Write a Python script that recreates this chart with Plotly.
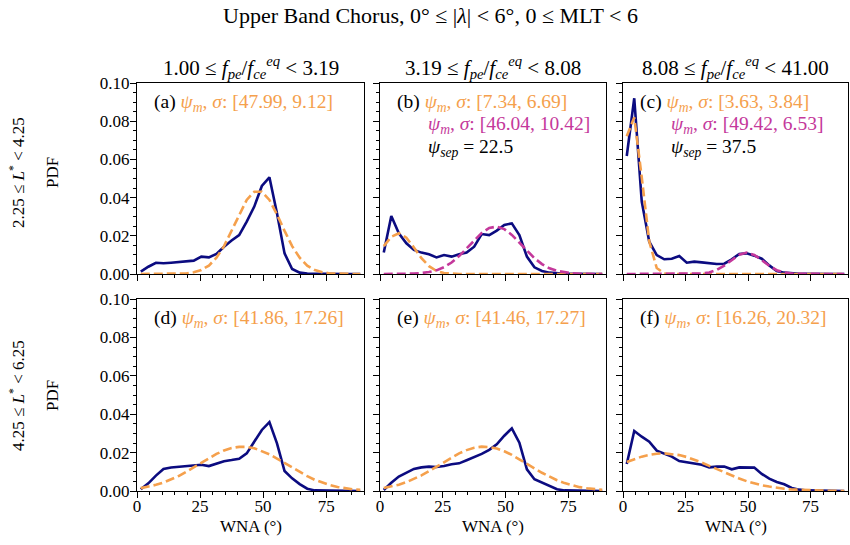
import plotly.graph_objects as go

# Bin centres of wave normal angle (degrees)
wna = [1.5, 4.5, 7.5, 10.5, 13.5, 16.5, 19.5, 22.5, 25.5, 28.5,
       31.5, 34.5, 37.5, 40.5, 43.5, 46.5, 49.5, 52.5, 55.5, 58.5,
       61.5, 64.5, 67.5, 70.5, 73.5, 76.5, 79.5, 82.5, 85.5, 88.5]

# Measured PDFs (navy)
pdf_a = [0.0012, 0.0038, 0.0059, 0.0056, 0.0059, 0.0063, 0.0068, 0.0070, 0.0091, 0.0087,
         0.0105, 0.0143, 0.0175, 0.0204, 0.0274, 0.0353, 0.0461, 0.0506, 0.0318, 0.0108,
         0.0026, 0.0007, 0.0002, 0.0001, 0.0001, 0.0, 0.0, 0.0, 0.0, 0.0]
pdf_b = [0.0112, 0.0304, 0.0213, 0.0161, 0.0126, 0.0112, 0.0103, 0.0087, 0.0099, 0.0091,
         0.0103, 0.0112, 0.0143, 0.0209, 0.0204, 0.0227, 0.0257, 0.0265, 0.0204, 0.0091,
         0.0035, 0.0016, 0.0007, 0.0003, 0.0001, 0.0001, 0.0, 0.0, 0.0, 0.0]
pdf_c = [0.0618, 0.0920, 0.0379, 0.0169, 0.0099, 0.0077, 0.0080, 0.0094, 0.0059, 0.0065,
         0.0061, 0.0056, 0.0052, 0.0054, 0.0077, 0.0105, 0.0108, 0.0096, 0.0080, 0.0045,
         0.0016, 0.0007, 0.0003, 0.0001, 0.0001, 0.0, 0.0, 0.0, 0.0, 0.0]
pdf_d = [0.0009, 0.0040, 0.0080, 0.0115, 0.0122, 0.0125, 0.0128, 0.0132, 0.0137, 0.0130,
         0.0142, 0.0155, 0.0161, 0.0168, 0.0196, 0.0257, 0.0318, 0.0359, 0.0248, 0.0104,
         0.0066, 0.0036, 0.0012, 0.0003, 0.0002, 0.0001, 0.0001, 0.0, 0.0, 0.0]
pdf_e = [0.0005, 0.0043, 0.0075, 0.0095, 0.0115, 0.0123, 0.0127, 0.0125, 0.0130, 0.0139,
         0.0144, 0.0160, 0.0175, 0.0193, 0.0214, 0.0243, 0.0288, 0.0326, 0.0252, 0.0113,
         0.0061, 0.0043, 0.0023, 0.0009, 0.0003, 0.0002, 0.0001, 0.0001, 0.0, 0.0]
pdf_f = [0.0141, 0.0313, 0.0283, 0.0257, 0.0210, 0.0196, 0.0179, 0.0156, 0.0149, 0.0144,
         0.0137, 0.0123, 0.0127, 0.0127, 0.0113, 0.0123, 0.0122, 0.0122, 0.0089, 0.0064,
         0.0047, 0.0035, 0.0016, 0.0007, 0.0003, 0.0002, 0.0001, 0.0001, 0.0, 0.0]

# Fitted Gaussian components
fit1_a = [0.0, 0.0, 0.0, 0.0, 0.0, 0.0001, 0.0003, 0.0009, 0.0021, 0.0044,
          0.0085, 0.0146, 0.0226, 0.0312, 0.0388, 0.0431, 0.0431, 0.0388, 0.0312, 0.0226,
          0.0146, 0.0085, 0.0044, 0.0021, 0.0009, 0.0003, 0.0001, 0.0, 0.0, 0.0]
fit1_b = [0.0146, 0.0195, 0.0213, 0.0190, 0.0139, 0.0083, 0.0041, 0.0016, 0.0005, 0.0001,
          0.0, 0.0, 0.0, 0.0, 0.0, 0.0, 0.0, 0.0, 0.0, 0.0,
          0.0, 0.0, 0.0, 0.0, 0.0, 0.0, 0.0, 0.0, 0.0, 0.0]
fit2_b = [0.0, 0.0, 0.0, 0.0001, 0.0002, 0.0005, 0.0010, 0.0019, 0.0036, 0.0060,
          0.0094, 0.0134, 0.0177, 0.0215, 0.0241, 0.0248, 0.0235, 0.0205, 0.0164, 0.0121,
          0.0083, 0.0052, 0.0030, 0.0016, 0.0008, 0.0004, 0.0001, 0.0001, 0.0, 0.0]
fit1_c = [0.0721, 0.0820, 0.0506, 0.0170, 0.0031, 0.0003, 0.0, 0.0, 0.0, 0.0,
          0.0, 0.0, 0.0, 0.0, 0.0, 0.0, 0.0, 0.0, 0.0, 0.0,
          0.0, 0.0, 0.0, 0.0, 0.0, 0.0, 0.0, 0.0, 0.0, 0.0]
fit2_c = [0.0, 0.0, 0.0, 0.0, 0.0, 0.0, 0.0, 0.0, 0.0, 0.0001,
          0.0003, 0.0008, 0.0021, 0.0044, 0.0074, 0.0101, 0.0112, 0.0100, 0.0073, 0.0043,
          0.0020, 0.0008, 0.0002, 0.0001, 0.0, 0.0, 0.0, 0.0, 0.0, 0.0]
fit1_d = [0.0015, 0.0022, 0.0032, 0.0044, 0.0060, 0.0078, 0.0100, 0.0123, 0.0147, 0.0171,
          0.0193, 0.0211, 0.0224, 0.0230, 0.0230, 0.0223, 0.0209, 0.0191, 0.0169, 0.0145,
          0.0121, 0.0098, 0.0077, 0.0058, 0.0043, 0.0031, 0.0021, 0.0014, 0.0009, 0.0006]
fit1_e = [0.0016, 0.0023, 0.0033, 0.0046, 0.0062, 0.0081, 0.0103, 0.0126, 0.0151, 0.0174,
          0.0196, 0.0213, 0.0225, 0.0231, 0.0229, 0.0221, 0.0207, 0.0188, 0.0166, 0.0142,
          0.0118, 0.0095, 0.0074, 0.0056, 0.0041, 0.0030, 0.0020, 0.0014, 0.0009, 0.0006]
fit1_f = [0.0151, 0.0166, 0.0179, 0.0188, 0.0194, 0.0196, 0.0193, 0.0187, 0.0177, 0.0164,
          0.0148, 0.0131, 0.0114, 0.0096, 0.0080, 0.0065, 0.0051, 0.0040, 0.0030, 0.0023,
          0.0016, 0.0012, 0.0008, 0.0006, 0.0004, 0.0002, 0.0002, 0.0001, 0.0001, 0.0]

panel_letters = ["(a)", "(b)", "(c)", "(d)", "(e)", "(f)"]
fit_params_1 = ["[47.99, 9.12]", "[7.34, 6.69]", "[3.63, 3.84]",
                "[41.86, 17.26]", "[41.46, 17.27]", "[16.26, 20.32]"]
fit_params_2 = [None, "[46.04, 10.42]", "[49.42, 6.53]", None, None, None]
psi_sep = [None, "22.5", "37.5", None, None, None]

col_titles = ["1.00 ≤ <i>f</i><sub><i>pe</i></sub>/<i>f</i><sub><i>ce</i></sub><sup><i>eq</i></sup> &lt; 3.19",
              "3.19 ≤ <i>f</i><sub><i>pe</i></sub>/<i>f</i><sub><i>ce</i></sub><sup><i>eq</i></sup> &lt; 8.08",
              "8.08 ≤ <i>f</i><sub><i>pe</i></sub>/<i>f</i><sub><i>ce</i></sub><sup><i>eq</i></sup> &lt; 41.00"]
row_titles = ["2.25 ≤ <i>L</i><sup>*</sup> &lt; 4.25", "4.25 ≤ <i>L</i><sup>*</sup> &lt; 6.25"]
main_title = "Upper Band Chorus, 0° ≤ |<i>λ</i>| &lt; 6°, 0 ≤ MLT &lt; 6"

pdfs = [pdf_a, pdf_b, pdf_c, pdf_d, pdf_e, pdf_f]
fits1 = [fit1_a, fit1_b, fit1_c, fit1_d, fit1_e, fit1_f]
fits2 = [None, fit2_b, fit2_c, None, None, None]

NAVY = "#0b0b80"
ORANGE = "#F5A04C"
MAGENTA = "#C4389B"
FONT = "Liberation Serif"

# pixel geometry
L, R, T, B = 137, 848, 83, 491
W, H = R - L, B - T
col_px = [(137, 364), (380, 606), (623, 848)]
row_px = [(83, 274), (299, 491)]


def px(x):
    return (x - L) / W


def py(y):
    return (B - y) / H


fig = go.Figure()
for i in range(6):
    n = i + 1
    xa = "x" if n == 1 else f"x{n}"
    ya = "y" if n == 1 else f"y{n}"
    fig.add_trace(go.Scatter(x=wna, y=pdfs[i], mode="lines", xaxis=xa, yaxis=ya,
                             line=dict(color=NAVY, width=2.6), showlegend=False))
    fig.add_trace(go.Scatter(x=wna, y=fits1[i], mode="lines", xaxis=xa, yaxis=ya,
                             line=dict(color=ORANGE, width=2.6, dash="9px,4px"), showlegend=False))
    if fits2[i] is not None:
        fig.add_trace(go.Scatter(x=wna, y=fits2[i], mode="lines", xaxis=xa, yaxis=ya,
                                 line=dict(color=MAGENTA, width=2.6, dash="9px,4px"), showlegend=False))

layout = dict(
    width=850, height=545,
    margin=dict(l=L, r=850 - R, t=T, b=545 - B, pad=0),
    paper_bgcolor="white", plot_bgcolor="white",
    font=dict(family=FONT, size=17, color="black"),
    showlegend=False,
)

for i in range(6):
    r, c = divmod(i, 3)
    n = i + 1
    xk = "xaxis" if n == 1 else f"xaxis{n}"
    yk = "yaxis" if n == 1 else f"yaxis{n}"
    x0, x1 = col_px[c]
    y0, y1 = row_px[r]
    layout[xk] = dict(
        domain=[px(x0), px(x1)], anchor="y" if n == 1 else f"y{n}",
        range=[0, 90], tickvals=[0, 25, 50, 75], ticks="outside", ticklen=6, tickwidth=1.2,
        tickcolor="black", showline=True, linecolor="black", linewidth=1.3, mirror=True,
        showgrid=False, zeroline=False, showticklabels=(r == 1),
        tickfont=dict(family=FONT, size=17), ticklabelstandoff=-7,
        minor=dict(dtick=5, tick0=0, ticks="outside", ticklen=3, tickcolor="black", tickwidth=1, showgrid=False),
    )
    layout[yk] = dict(
        domain=[py(y1), py(y0)], anchor="x" if n == 1 else f"x{n}",
        range=[0, 0.1], tickvals=[0, 0.02, 0.04, 0.06, 0.08, 0.10],
        ticktext=["0.00", "0.02", "0.04", "0.06", "0.08", "0.10"],
        ticks="outside", ticklen=6, tickwidth=1.2, tickcolor="black",
        showline=True, linecolor="black", linewidth=1.3, mirror=True,
        showgrid=False, zeroline=False, showticklabels=(c == 0),
        tickfont=dict(family=FONT, size=17), ticklabelstandoff=-3,
        minor=dict(dtick=0.005, tick0=0, ticks="outside", ticklen=3, tickcolor="black", tickwidth=1, showgrid=False),
    )

annotations = []


def ann(text, x, y, size=17, color="black", xanchor="center", angle=0):
    annotations.append(dict(text=text, x=px(x), y=py(y), xref="paper", yref="paper",
                            showarrow=False, xanchor=xanchor, yanchor="middle",
                            textangle=angle, font=dict(family=FONT, size=size, color=color)))


ann(main_title, 430, 16, size=22)
for c in range(3):
    x0, x1 = col_px[c]
    ann(col_titles[c], (x0 + x1) / 2, 68, size=21)
    ann("WNA (°)", (x0 + x1) / 2, 526, size=17)
row_centres = [173, 396]
for r in range(2):
    ann(row_titles[r], 17, row_centres[r], size=17, angle=-90)
    ann("PDF", 52, row_centres[r], size=17, angle=-90)

for i in range(6):
    r, c = divmod(i, 3)
    x0 = col_px[c][0] + 15
    ytop = row_px[r][0] + 20
    line1 = (f"{panel_letters[i]} <span style='color:{ORANGE}'><i>ψ<sub>m</sub></i>, <i>σ</i>: "
             f"{fit_params_1[i]}</span>")
    ann(line1, x0, ytop, size=19.5, xanchor="left")
    if fit_params_2[i] is not None:
        line2 = f"<span style='color:{MAGENTA}'><i>ψ<sub>m</sub></i>, <i>σ</i>: {fit_params_2[i]}</span>"
        ann(line2, x0 + 31, ytop + 22.5, size=19.5, xanchor="left")
        line3 = f"<i>ψ<sub>sep</sub></i> = {psi_sep[i]}"
        ann(line3, x0 + 31, ytop + 45, size=19.5, xanchor="left")

layout["annotations"] = annotations
fig.update_layout(**layout)
fig.write_html("out.html", config={"displayModeBar": False},
               post_script="document.body.style.margin='0';")
